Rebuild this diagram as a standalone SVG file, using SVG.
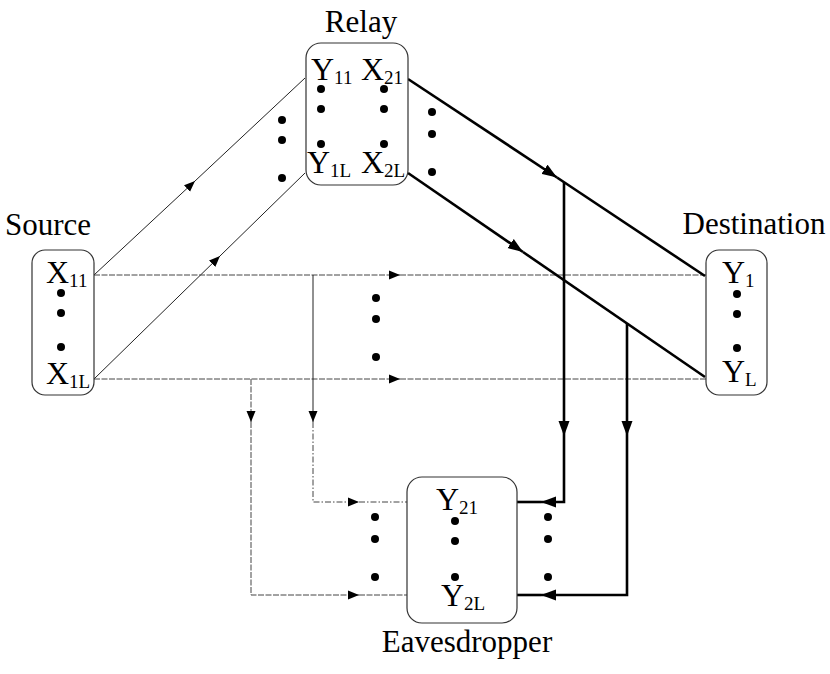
<svg xmlns="http://www.w3.org/2000/svg" width="830" height="674" viewBox="0 0 830 674">
<style>
text{font-family:'Liberation Serif','Times New Roman',serif;fill:#000}
.lbl{font-size:31px;text-anchor:middle}
.v{font-size:32px}
.s{font-size:19px}
.box{fill:#fff;stroke:#333;stroke-width:1.2}
.thin{fill:none;stroke:#222;stroke-width:1}
.dash{fill:none;stroke:#444;stroke-width:1;stroke-dasharray:6 1.5}
.dd{fill:none;stroke:#444;stroke-width:1;stroke-dasharray:6 2 1.5 2}
.thick{fill:none;stroke:#000;stroke-width:2.6}
.dot{fill:#000}
</style>
<defs>
<marker id="at" markerUnits="userSpaceOnUse" markerWidth="11" markerHeight="10" refX="11" refY="5" orient="auto"><path d="M0,0.5 L11,5 L0,9.5 z" fill="#000"/></marker>
<marker id="ak" markerUnits="userSpaceOnUse" markerWidth="15" markerHeight="12" refX="15" refY="6" orient="auto"><path d="M0,0.5 L15,6 L0,11.5 z" fill="#000"/></marker>
</defs>
<g id="connectors">
<path class="thin" d="M94,275 L195,181" marker-end="url(#at)"/>
<path class="thin" d="M195,181 L305,78"/>
<path class="thin" d="M94,379 L220,256" marker-end="url(#at)"/>
<path class="thin" d="M220,256 L305,173"/>
<path class="dash" d="M94,275 L400,275" marker-end="url(#at)"/>
<path class="dash" d="M400,275 L706,275"/>
<path class="dash" d="M94,379 L400,379" marker-end="url(#at)"/>
<path class="dash" d="M400,379 L706,379"/>
<path class="thin" d="M313,275 L313,422" marker-end="url(#at)"/>
<path class="dd" d="M313,422 L313,502 L359,502" marker-end="url(#at)"/>
<path class="dd" d="M359,502 L407,502"/>
<path class="dash" d="M251,379 L251,422" marker-end="url(#at)"/>
<path class="dash" d="M251,422 L251,595 L359,595" marker-end="url(#at)"/>
<path class="dash" d="M359,595 L407,595"/>
<path class="thick" d="M408,79 L557,177.5" marker-end="url(#ak)"/>
<path class="thick" d="M557,177.5 L705,276"/>
<path class="thick" d="M408,173 L523,252" marker-end="url(#ak)"/>
<path class="thick" d="M523,252 L705,377"/>
<path class="thick" d="M564,182 L564,436" marker-end="url(#ak)"/>
<path class="thick" d="M564,436 L564,502 L541,502" marker-end="url(#ak)"/>
<path class="thick" d="M541,502 L517,502"/>
<path class="thick" d="M627,323 L627,436" marker-end="url(#ak)"/>
<path class="thick" d="M627,436 L627,595 L541,595" marker-end="url(#ak)"/>
<path class="thick" d="M541,595 L517,595"/>
<circle class="dot" cx="282" cy="120" r="4"/>
<circle class="dot" cx="282" cy="140" r="4"/>
<circle class="dot" cx="282" cy="178" r="4"/>
<circle class="dot" cx="432" cy="112" r="4"/>
<circle class="dot" cx="432" cy="134" r="4"/>
<circle class="dot" cx="432" cy="172" r="4"/>
<circle class="dot" cx="376" cy="298" r="4"/>
<circle class="dot" cx="376" cy="319" r="4"/>
<circle class="dot" cx="376" cy="357" r="4"/>
<circle class="dot" cx="375" cy="517" r="4"/>
<circle class="dot" cx="375" cy="539" r="4"/>
<circle class="dot" cx="375" cy="577" r="4"/>
<circle class="dot" cx="548" cy="517" r="4"/>
<circle class="dot" cx="548" cy="539" r="4"/>
<circle class="dot" cx="548" cy="577" r="4"/>
</g>
<g id="source">
<rect class="box" x="32" y="250" width="62" height="145" rx="13"/>
<text class="lbl" x="48" y="235">Source</text>
<text class="v" x="46" y="283">X<tspan class="s" dy="4">11</tspan></text>
<circle class="dot" cx="61" cy="293" r="4"/>
<circle class="dot" cx="61" cy="313" r="4"/>
<circle class="dot" cx="61" cy="347" r="4"/>
<text class="v" x="46" y="384">X<tspan class="s" dy="4">1L</tspan></text>
</g>
<g id="relay">
<rect class="box" x="306" y="43" width="102" height="142" rx="15"/>
<text class="lbl" x="361" y="32">Relay</text>
<text class="v" x="311" y="80">Y<tspan class="s" dy="4">11</tspan></text>
<text class="v" x="361" y="80">X<tspan class="s" dy="4">21</tspan></text>
<circle class="dot" cx="321" cy="89" r="4"/>
<circle class="dot" cx="321" cy="109" r="4"/>
<circle class="dot" cx="321" cy="144" r="4"/>
<circle class="dot" cx="384" cy="89" r="4"/>
<circle class="dot" cx="384" cy="109" r="4"/>
<circle class="dot" cx="384" cy="144" r="4"/>
<text class="v" x="307" y="173">Y<tspan class="s" dy="4">1L</tspan></text>
<text class="v" x="361" y="173">X<tspan class="s" dy="4">2L</tspan></text>
</g>
<g id="destination">
<rect class="box" x="706" y="250" width="61" height="145" rx="13"/>
<text class="lbl" x="754" y="234">Destination</text>
<text class="v" x="722" y="283">Y<tspan class="s" dy="4">1</tspan></text>
<circle class="dot" cx="737" cy="294" r="4"/>
<circle class="dot" cx="737" cy="314" r="4"/>
<circle class="dot" cx="737" cy="348" r="4"/>
<text class="v" x="722" y="382">Y<tspan class="s" dy="4">L</tspan></text>
</g>
<g id="eavesdropper">
<rect class="box" x="407" y="477" width="110" height="146" rx="15"/>
<text class="lbl" x="467" y="652">Eavesdropper</text>
<text class="v" x="436" y="510">Y<tspan class="s" dy="4">21</tspan></text>
<circle class="dot" cx="455" cy="521" r="4"/>
<circle class="dot" cx="455" cy="541" r="4"/>
<circle class="dot" cx="455" cy="577" r="4"/>
<text class="v" x="441" y="606">Y<tspan class="s" dy="4">2L</tspan></text>
</g>
</svg>
